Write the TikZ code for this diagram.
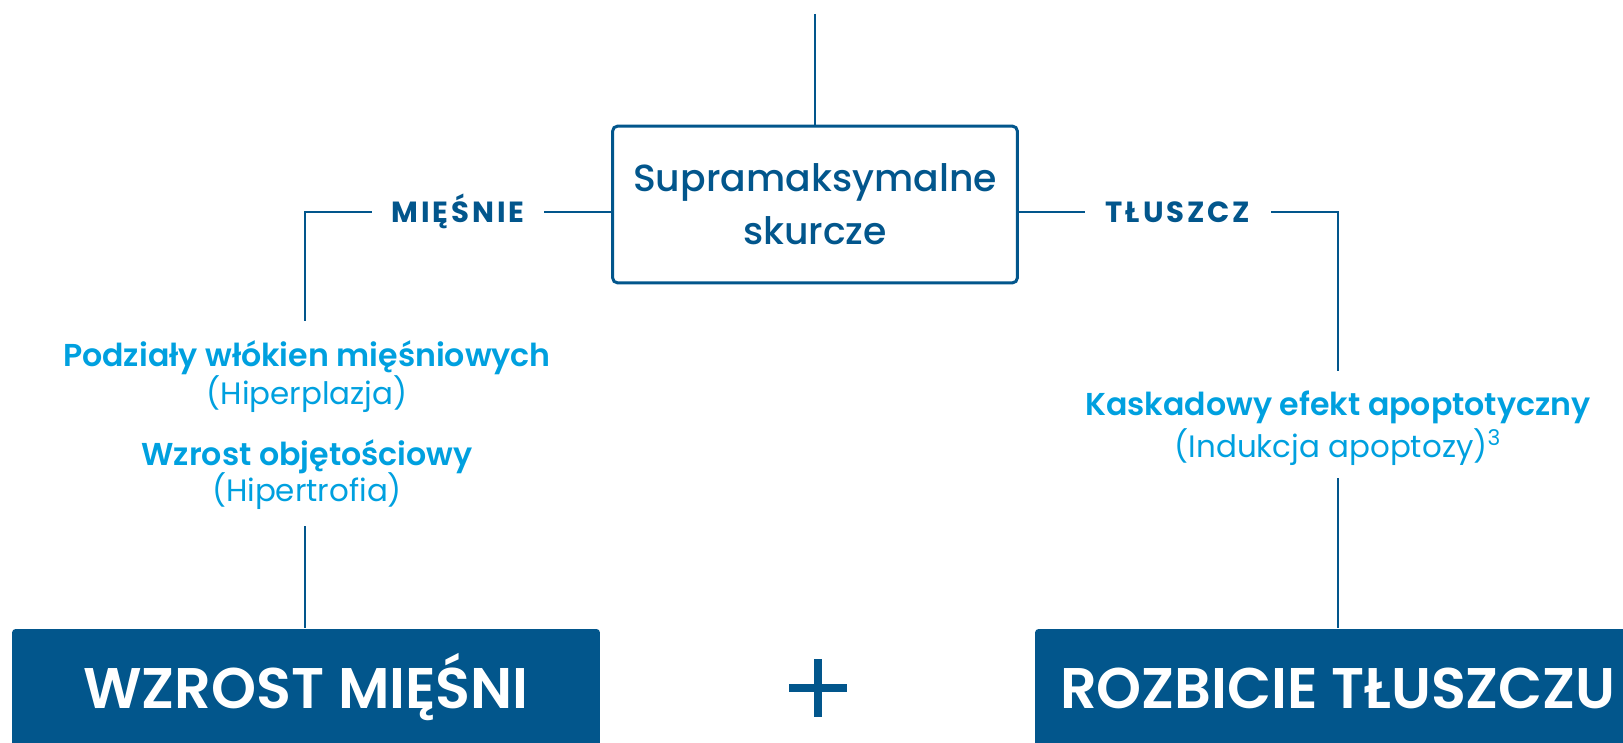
\documentclass[tikz,border=0pt]{standalone}
\usepackage{fontspec}
\setmainfont{Poppins}
\newfontfamily\MedFont{Poppins Medium}
\newfontfamily\SemiFont{Poppins SemiBold}
\newfontfamily\LabelFont[LetterSpace=10]{Poppins Bold}
\usetikzlibrary{positioning}
\definecolor{darkblue}{HTML}{02568C}
\definecolor{lightblue}{HTML}{00A0DF}

\begin{document}
\begin{tikzpicture}
	[x=0.02cm, y=-0.02cm,
	color=darkblue,
	line width=1.6pt,
	stimulus/.style={draw, line width=1.7pt, rounded corners=3pt,
		minimum width=8.1cm, minimum height=3.14cm, inner sep=0pt, align=center,
		font=\MedFont\fontsize{21.5}{30.2}\selectfont},
	branch/.style={inner xsep=0pt, text height=11.5pt, text depth=0pt,
		font=\LabelFont\fontsize{16.6}{19}\selectfont},
	cause/.style={text=lightblue, inner sep=0pt, anchor=base,
		font=\SemiFont\fontsize{18}{22}\selectfont},
	detail/.style={text=lightblue, inner sep=0pt, anchor=base,
		font=\fontsize{17.6}{22}\selectfont},
	result/.style={fill=darkblue, text=white, rounded corners=2pt,
		minimum height=2.36cm, inner sep=0pt, text height=22.8pt, text depth=0pt,
		font=\SemiFont\fontsize{32.6}{36}\selectfont}]

\def\LeftX{305}
\def\RightX{1338}
\def\BranchY{212}
\def\ResultY{688}

% Canvas
\useasboundingbox (0,0) rectangle (1623,743);
\clip (0,0) rectangle (1623,743);

% Central box
\node (skurcze) [stimulus] at (815,204.5) {Supramaksymalne\\skurcze};
\coordinate (top) at (815,14);
\draw (top) -- (skurcze.north);

% Branch labels
\node (miesnie) [branch, minimum width=3.4cm] at (458,\BranchY) {MIĘŚNIE};
\node (tluszcz) [branch, minimum width=3.68cm] at (1178,\BranchY) {TŁUSZCZ};

\coordinate (lknee) at (\LeftX,321);
\coordinate (rknee) at (\RightX,371);
\draw (skurcze.west |- miesnie.east) -- (miesnie.east);
\draw (miesnie.west) -| (lknee);
\draw (skurcze.east |- tluszcz.west) -- (tluszcz.west);
\draw (tluszcz.east) -| (rknee);

% Muscle effects
\node (podzialy) [cause] at (307,366) {Podziały włókien mięśniowych};
\node (hiperplazja) [detail] at (307,404) {(Hiperplazja)};
\node (wzrost) [cause] at (307,465) {Wzrost objętościowy};
\node (hipertrofia) [detail] at (307,501) {(Hipertrofia)};

% Fat effects
\node (kaskada) [cause] at (\RightX,415) {Kaskadowy efekt apoptotyczny};
\node (indukcja) [detail] at (\RightX,457) {(Indukcja apoptozy)\textsuperscript{3}};

% Results
\node (miesniebox) [result, minimum width=11.76cm] at (306,\ResultY) {WZROST MIĘŚNI};
\node (tluszczbox) [result, minimum width=12.12cm] at (\RightX,\ResultY) {ROZBICIE TŁUSZCZU};

\coordinate (lfoot) at (\LeftX,526);
\coordinate (rfoot) at (\RightX,478);
\draw (lfoot) -- (lfoot |- miesniebox.north);
\draw (rfoot) -- (rfoot |- tluszczbox.north);

% Plus
\draw [line width=4.5pt]
	(789,\ResultY) -- (847,\ResultY)
	(818,659) -- (818,717);

\end{tikzpicture}
\end{document}
